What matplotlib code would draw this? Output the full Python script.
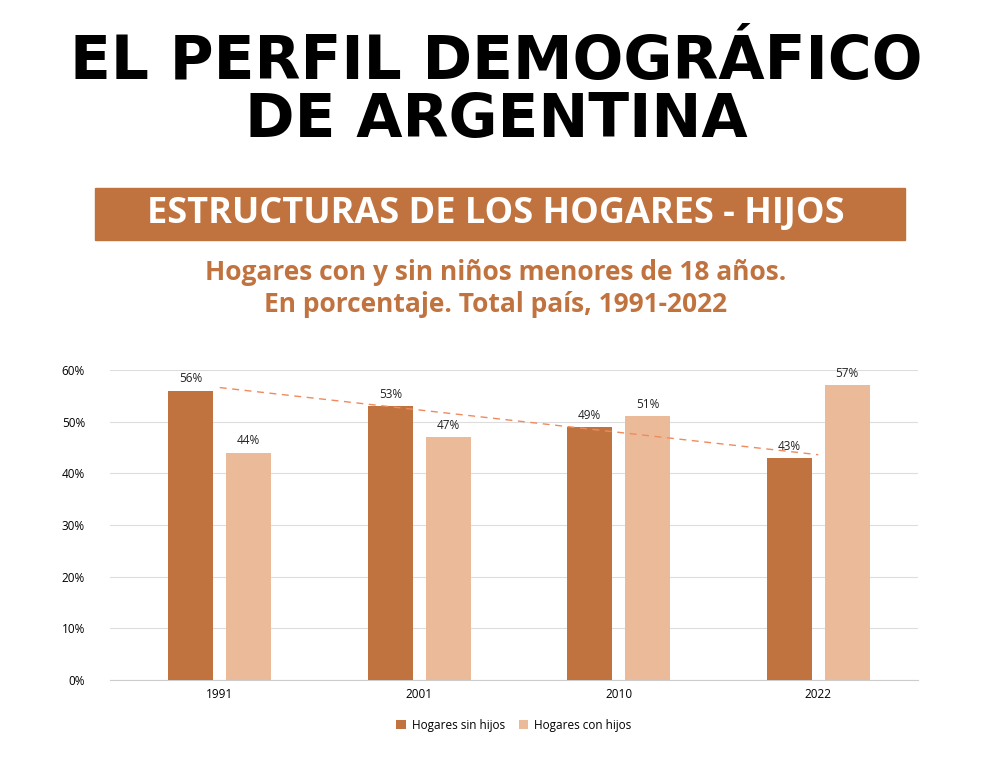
import matplotlib.pyplot as plt
import numpy as np
from matplotlib.patches import Rectangle

years = ["1991", "2001", "2010", "2022"]
sin_hijos = [56, 53, 49, 43]
con_hijos = [44, 47, 51, 57]

dark = "#C0733F"
light = "#EBBB99"
orange = "#C0733F"

fig = plt.figure(figsize=(9.92, 7.64), dpi=100)
fig.patch.set_facecolor("white")

fig.text(0.5, 0.918, "EL PERFIL DEMOGRÁFICO", ha="center", va="center",
         fontsize=43, fontweight="heavy", family="DejaVu Sans", color="black")
fig.text(0.5, 0.842, "DE ARGENTINA", ha="center", va="center",
         fontsize=43, fontweight="heavy", family="DejaVu Sans", color="black")

fig.patches.append(Rectangle((95 / 992, 1 - 240 / 764), 810 / 992, 52 / 764,
                             transform=fig.transFigure, color=orange, zorder=0))
fig.text(0.5, 1 - 214 / 764, "ESTRUCTURAS DE LOS HOGARES - HIJOS", ha="center",
         va="center", fontsize=26, fontweight="bold", family="Open Sans", color="white")
fig.text(0.5, 1 - 273 / 764, "Hogares con y sin niños menores de 18 años.", ha="center",
         va="center", fontsize=19, fontweight="bold", family="Open Sans", color=orange)
fig.text(0.5, 1 - 304 / 764, "En porcentaje. Total país, 1991-2022", ha="center",
         va="center", fontsize=19, fontweight="bold", family="Open Sans", color=orange)

ax = fig.add_axes([110 / 992, 84 / 764, 808 / 992, 310 / 764])
x = np.arange(len(years))
w = 0.225
off = 0.145
b1 = ax.bar(x - off, sin_hijos, w, color=dark, label="Hogares sin hijos", zorder=3)
b2 = ax.bar(x + off, con_hijos, w, color=light, label="Hogares con hijos", zorder=3)
for bars, vals in ((b1, sin_hijos), (b2, con_hijos)):
    for r, v in zip(bars, vals):
        ax.text(r.get_x() + r.get_width() / 2, v + 1.0, f"{v}%", ha="center",
                va="bottom", fontsize=8.5, family="Open Sans", color="#222222")

ax.plot([x[0], x[-1]], [sin_hijos[0] + 0.6, sin_hijos[-1] + 0.6], ls=(0, (5, 4)),
        color="#F08A5D", lw=1, zorder=4)

ax.set_xlim(-0.55, 3.5)
ax.set_ylim(0, 60)
ax.set_yticks(range(0, 61, 10))
ax.set_yticklabels([f"{t}%" for t in range(0, 61, 10)], fontsize=8.5, family="Open Sans")
ax.set_xticks(x)
ax.set_xticklabels(years, fontsize=8.5, family="Open Sans")
ax.tick_params(length=0, pad=6)
ax.tick_params(axis="y", pad=18)
ax.grid(axis="y", color="#DDDDDD", lw=0.8, zorder=0)
for s in ["top", "right", "left"]:
    ax.spines[s].set_visible(False)
ax.spines["bottom"].set_color("#CCCCCC")

ax.legend(loc="upper center", bbox_to_anchor=(0.5, -0.09), ncol=2, frameon=False,
          prop={"family": "Open Sans", "size": 8.5}, handlelength=0.8, handleheight=0.8,
          columnspacing=1.2, handletextpad=0.5)

fig.savefig("out.png", dpi=100)
